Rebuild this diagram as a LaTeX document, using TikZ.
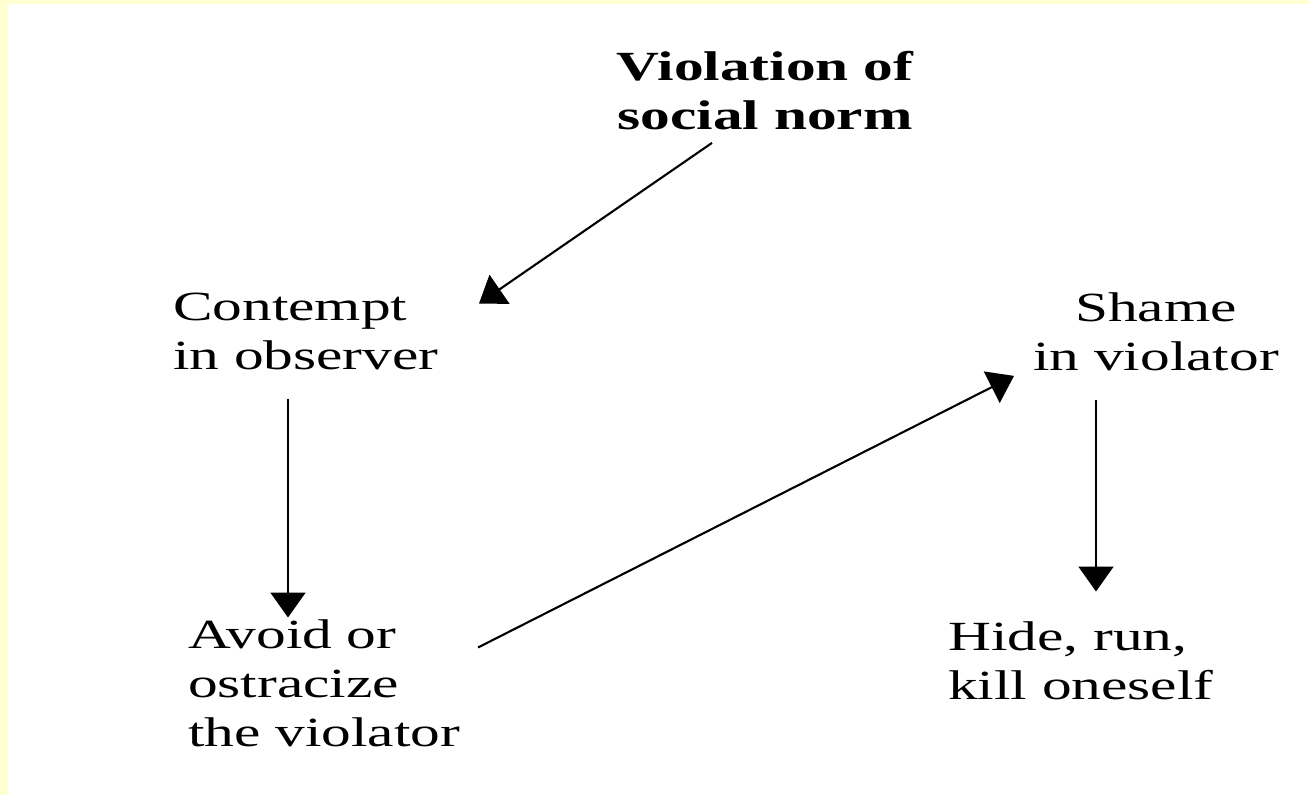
\documentclass[tikz,border=0pt]{standalone}
\usepackage{fontspec}
\setmainfont{Liberation Serif}[FakeStretch=1.43]
\usetikzlibrary{arrows.meta,calc}
\definecolor{bordery}{RGB}{255,255,208}
\begin{document}
\begin{tikzpicture}[x=1pt,y=-1pt,
  lbl/.style={inner sep=0pt, font=\fontsize{41.5}{49}\selectfont},
  arr/.style={-{Triangle[length=25pt,width=35pt]}, line width=2.1pt}]
\useasboundingbox (0,0) rectangle (1309,795);
\fill[bordery] (0,0) rectangle (1309,795);
\fill[white] (8,4) rectangle (1309,795);

\node[lbl, anchor=base] (viol) at (765,80)
  {\begin{tabular}[t]{@{}c@{}}\bfseries Violation of\\\bfseries social norm\end{tabular}};
\node[lbl, anchor=base west] (cont) at (173,320)
  {\begin{tabular}[t]{@{}l@{}}Contempt\\in observer\end{tabular}};
\node[lbl, anchor=base] (shame) at (1156,321)
  {\begin{tabular}[t]{@{}c@{}}Shame\\in violator\end{tabular}};
\node[lbl, anchor=base west] (avoid) at (188,648)
  {\begin{tabular}[t]{@{}l@{}}Avoid or\\ostracize\\the violator\end{tabular}};
\node[lbl, anchor=base west] (hide) at (948,650)
  {\begin{tabular}[t]{@{}l@{}}Hide, run,\\kill oneself\end{tabular}};

\draw[arr] ($(viol.south)+(-53,-1)$) -- ($(cont.north west)+(306,18)$);
\draw[arr] ($(cont.south west)+(115,15)$) -- ($(avoid.north west)+(100,4)$);
\draw[arr] ($(avoid.north west)+(290,34)$) -- ($(shame.south)+(-142,-9)$);
\draw[arr] ($(shame.south)+(-60,15)$) -- ($(hide.north west)+(148,-24)$);
\end{tikzpicture}
\end{document}
